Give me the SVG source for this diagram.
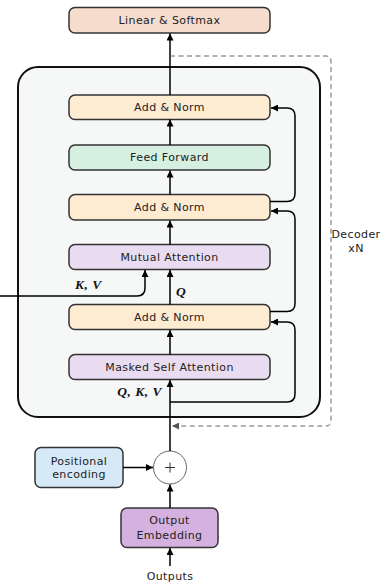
<svg xmlns="http://www.w3.org/2000/svg" width="387" height="582" viewBox="0 0 387 582">
<defs>
<marker id="ah" viewBox="0 0 10 10" refX="10" refY="5" markerWidth="7" markerHeight="7" markerUnits="userSpaceOnUse" orient="auto">
<path d="M0,0 L10,5 L0,10 z" fill="#000"/>
</marker>
<marker id="ahg" viewBox="0 0 10 10" refX="10" refY="5" markerWidth="7" markerHeight="7" markerUnits="userSpaceOnUse" orient="auto">
<path d="M0,0 L10,5 L0,10 z" fill="#555"/>
</marker>
</defs>
<style>
.box{stroke:#333;stroke-width:1.5}
.t{font-family:"DejaVu Sans","Liberation Sans",sans-serif;font-size:11px;fill:#222;text-anchor:middle;dominant-baseline:central;letter-spacing:0.4px}
.m{font-family:"Liberation Serif",serif;font-size:13.5px;font-weight:bold;font-style:italic;fill:#111;letter-spacing:0.5px}
.c{fill:none;stroke:#000;stroke-width:1.5}
</style>
<rect x="0" y="0" width="387" height="582" fill="#fff"/>
<g id="decoder">
<rect x="18" y="67" width="302" height="350" rx="20" fill="#f6f8f8" stroke="#111" stroke-width="2"/>
</g>
<g id="linear">
<rect class="box" x="69" y="7.5" width="201" height="25.5" rx="6" fill="#f6dccc"/>
<text class="t" x="169.5" y="20.5">Linear &amp; Softmax</text>
</g>
<g id="addnorm1">
<rect class="box" x="69" y="95" width="201" height="24.5" rx="6" fill="#fdebd2"/>
<text class="t" x="169.5" y="107.5">Add &amp; Norm</text>
</g>
<g id="ff">
<rect class="box" x="69" y="145" width="201" height="25" rx="6" fill="#d5efe1"/>
<text class="t" x="169.5" y="157.5">Feed Forward</text>
</g>
<g id="addnorm2">
<rect class="box" x="69" y="194.5" width="201" height="25.5" rx="6" fill="#fdebd2"/>
<text class="t" x="169.5" y="207.5">Add &amp; Norm</text>
</g>
<g id="mutual">
<rect class="box" x="69" y="244.5" width="201" height="25" rx="6" fill="#e9dcf0"/>
<text class="t" x="169.5" y="257">Mutual Attention</text>
</g>
<g id="addnorm3">
<rect class="box" x="69" y="304.5" width="201" height="25" rx="6" fill="#fdebd2"/>
<text class="t" x="169.5" y="317">Add &amp; Norm</text>
</g>
<g id="masked">
<rect class="box" x="69" y="354.5" width="201" height="25" rx="6" fill="#e9dcf0"/>
<text class="t" x="169.5" y="367">Masked Self Attention</text>
</g>
<g id="posenc">
<rect class="box" x="35" y="447.5" width="88" height="40" rx="6" fill="#d6e9f7"/>
<text class="t" x="79" y="461">Positional</text>
<text class="t" x="79" y="474">encoding</text>
</g>
<g id="plus">
<circle cx="170" cy="467.5" r="16.5" fill="#fff" stroke="#666" stroke-width="1"/>
<path d="M165,467.5 H175 M170,462.5 V472.5" stroke="#333" stroke-width="1"/>
</g>
<g id="embed">
<rect class="box" x="121" y="508" width="97" height="39.5" rx="6" fill="#d5b1df"/>
<text class="t" x="169.5" y="520">Output</text>
<text class="t" x="169.5" y="535">Embedding</text>
</g>
<g id="outputs">
<text class="t" x="170" y="576">Outputs</text>
</g>
<g id="decoder-label">
<text class="t" x="356" y="234">Decoder</text>
<text class="t" x="356" y="248">xN</text>
</g>
<g id="connectors">
<path class="c" d="M170,566 V548" marker-end="url(#ah)"/>
<path class="c" d="M170,508 V484.5" marker-end="url(#ah)"/>
<path class="c" d="M123,467.5 H153" marker-end="url(#ah)"/>
<path class="c" d="M170,451 V380" marker-end="url(#ah)"/>
<path class="c" d="M170,402 H287 Q295,402 295,394 V330 Q295,322 287,322 H271" marker-end="url(#ah)"/>
<path class="c" d="M170,354.5 V330" marker-end="url(#ah)"/>
<path class="c" d="M270,311.5 H287 Q295,311.5 295,303.5 V219 Q295,211 287,211 H271" marker-end="url(#ah)"/>
<path class="c" d="M170,304.5 V270" marker-end="url(#ah)"/>
<path class="c" d="M0,296 H137 Q145,296 145,288 V270" marker-end="url(#ah)"/>
<path class="c" d="M170,244.5 V220.5" marker-end="url(#ah)"/>
<path class="c" d="M170,194.5 V170.5" marker-end="url(#ah)"/>
<path class="c" d="M270,201.5 H287 Q295,201.5 295,193.5 V116 Q295,108 287,108 H271" marker-end="url(#ah)"/>
<path class="c" d="M170,145 V119.5" marker-end="url(#ah)"/>
<path class="c" d="M170,95 V33.5" marker-end="url(#ah)"/>
<path d="M170,56 H326 Q331,56 331,61 V421 Q331,426 326,426 H172" fill="none" stroke="#666" stroke-width="1" stroke-dasharray="5,3.5" marker-end="url(#ahg)"/>
<text class="m" x="75" y="289">K, V</text>
<text class="m" x="176" y="296">Q</text>
<text class="m" x="162" y="396" text-anchor="end">Q, K, V</text>
</g>
</svg>
